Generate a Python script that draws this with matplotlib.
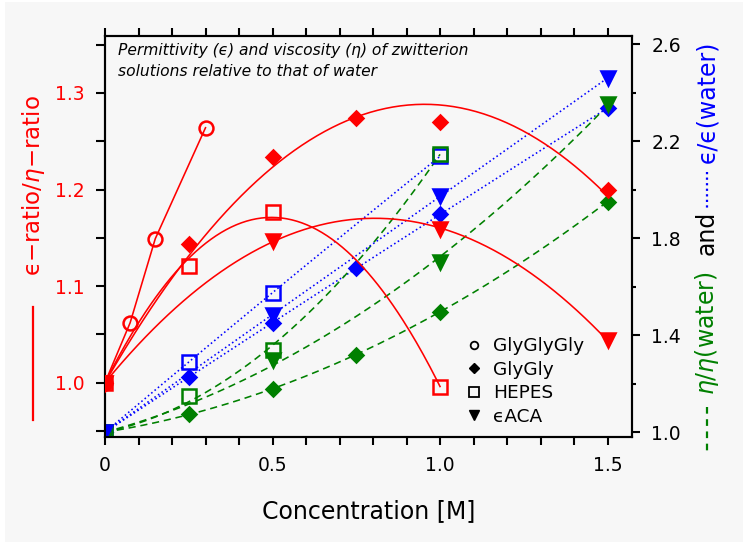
import numpy as np
import matplotlib
matplotlib.use("Agg")
import matplotlib.pyplot as plt
from matplotlib.lines import Line2D
from matplotlib.patches import Rectangle

plt.rcParams['font.family'] = ['DejaVu Sans']
plt.rcParams['mathtext.fontset'] = 'dejavusans'

# ---------------- data ----------------
x_ggg = [0, 0.075, 0.15, 0.3]
r_ggg = [1.0, 1.062, 1.149, 1.264]

x_gg = [0, 0.25, 0.5, 0.75, 1.0, 1.5]
r_gg = [1.0, 1.144, 1.234, 1.274, 1.270, 1.200]
eps_gg = [1.0, 1.227, 1.449, 1.676, 1.900, 2.336]
eta_gg = [1.0, 1.074, 1.179, 1.319, 1.497, 1.951]

x_hep = [0, 0.25, 0.5, 1.0]
r_hep = [1.0, 1.121, 1.177, 0.995]
eps_hep = [1.0, 1.291, 1.574, 2.138]
eta_hep = [1.0, 1.151, 1.339, 2.149]

x_aca = [0, 0.5, 1.0, 1.5]
r_aca = [1.0, 1.147, 1.159, 1.044]
eps_aca = [1.0, 1.483, 1.974, 2.460]
eta_aca = [1.0, 1.296, 1.703, 2.354]

legend_labels = ["GlyGlyGly", "GlyGly", "HEPES", "ϵACA"]
xticks = [0, 0.5, 1.0, 1.5]
xticklabels = ["0", "0.5", "1.0", "1.5"]
lticks = [1.0, 1.1, 1.2, 1.3]
rticks = [1.0, 1.4, 1.8, 2.2, 2.6]

RED = '#ff0000'
BLUE = '#0000ff'
GREEN = '#008000'
BG = '#f7f7f7'

W, H = 743, 542
fig = plt.figure(figsize=(W / 100, H / 100), dpi=100, facecolor='white')
fig.patches.append(Rectangle((5 / W, 0), 1, 1 - 2 / H, transform=fig.transFigure,
                             facecolor=BG, edgecolor='none', zorder=-10))

ax = fig.add_axes([105 / W, 1 - 437 / H, (632 - 105) / W, (437 - 36) / H])
ax2 = ax.twinx()
ax.set_zorder(ax2.get_zorder() + 1)
ax.patch.set_visible(False)
ax2.patch.set_visible(True)
ax2.patch.set_facecolor(BG)


def quad(x, y, n=200):
    # quadratic fit constrained to pass through the first (x=0) point
    x = np.asarray(x, float)
    y = np.asarray(y, float)
    A = np.column_stack([x, x ** 2])
    coef, *_ = np.linalg.lstsq(A, y - y[0], rcond=None)
    xx = np.linspace(x.min(), x.max(), n)
    return xx, y[0] + coef[0] * xx + coef[1] * xx ** 2


lw = 1.15
dot = (0, (1, 1.7))
dash = (0, (4.5, 3))
ms = 10

# ---- right axis: blue (eps) and green (eta) ----
def rplot(x, y, color, ls, marker, filled, msz):
    xx, yy = quad(x, y)
    ax2.plot(xx, yy, color=color, ls=ls, lw=lw, zorder=2)
    ax2.plot(x, y, ls='none', marker=marker, ms=msz,
             mfc=color if filled else 'none', mec=color, mew=1.8, zorder=3)

rplot(x_gg, eps_gg, BLUE, dot, 'D', True, 7)
rplot(x_gg, eta_gg, GREEN, dash, 'D', True, 7)
rplot(x_hep, eps_hep, BLUE, dot, 's', False, 10)
rplot(x_hep, eta_hep, GREEN, dash, 's', False, 10)
rplot(x_aca, eta_aca, GREEN, dash, 'v', True, 10)
rplot(x_aca, eps_aca, BLUE, dot, 'v', True, 10)

# ---- left axis: red ratio ----
ax.plot(x_ggg, r_ggg, color=RED, lw=lw, zorder=4)
ax.plot(x_ggg, r_ggg, ls='none', marker='o', ms=ms, mfc='none', mec=RED, mew=1.8, zorder=5)
for x, y, m, filled, msz in [(x_gg, r_gg, 'D', True, 7),
                             (x_aca, r_aca, 'v', True, 10),
                             (x_hep, r_hep, 's', False, 10)]:
    xx, yy = quad(x, y)
    ax.plot(xx, yy, color=RED, lw=lw, zorder=4)
    ax.plot(x, y, ls='none', marker=m, ms=msz, mfc=RED if filled else 'none',
            mec=RED, mew=1.8, zorder=5)

# ---- axes limits / ticks ----
ax.set_xlim(0, 1.573)
ax.set_ylim(0.9437, 1.359)
ax2.set_ylim(0.980, 2.634)

for a in (ax, ax2):
    for s in a.spines.values():
        s.set_linewidth(1.5)

ax.set_xticks(xticks)
ax.set_xticklabels(xticklabels)
ax.set_xticks(np.arange(0, 1.575, 0.1), minor=True)
ax.tick_params(axis='x', which='both', direction='out', top=True, bottom=True,
               width=1.5, length=6, labelsize=13.5, pad=8)

ax.set_yticks(lticks)
ax.set_yticks(np.arange(0.95, 1.36, 0.05), minor=True)
ax.tick_params(axis='y', which='both', direction='out', left=True, right=False,
               width=1.5, length=6.5, labelsize=13.5, labelcolor=RED, pad=8)

ax2.set_yticks(rticks)
ax2.set_yticks([1.2, 1.6, 2.0, 2.4], minor=True)
ax2.tick_params(axis='y', which='both', direction='out', right=True, width=1.5,
                labelsize=13.5, pad=8)
ax2.tick_params(axis='y', which='major', length=6)
ax2.tick_params(axis='y', which='minor', length=3)

ax.set_xlabel("Concentration [M]", fontsize=17, labelpad=17)

# ---- title text ----
ax.text(0.025, 0.982,
        "Permittivity (ϵ) and viscosity (η) of zwitterion\nsolutions relative to that of water",
        transform=ax.transAxes, ha='left', va='top', fontsize=11.2, style='italic',
        linespacing=1.5, zorder=6)

# ---- legend ----
handles = [Line2D([], [], ls='none', marker='o', ms=5.5, mfc='none', mec='black', mew=1.3),
           Line2D([], [], ls='none', marker='D', ms=5, mfc='black', mec='black'),
           Line2D([], [], ls='none', marker='s', ms=6.5, mfc='none', mec='black', mew=1.3),
           Line2D([], [], ls='none', marker='v', ms=6.5, mfc='black', mec='black')]
leg = ax.legend(handles, legend_labels, loc='upper left', bbox_to_anchor=(0.683, 0.249),
                frameon=False, fontsize=13.3, handlelength=1.0, handletextpad=0.5,
                labelspacing=0.3, borderpad=0, borderaxespad=0)

# ---- left y label ----
fig.text(34 / W, 1 - 186 / H, "ϵ−ratio/$\\eta$−ratio", rotation=90, ha='center',
         va='center', color=RED, fontsize=16.5)
fig.add_artist(Line2D([33 / W, 33 / W], [1 - 307 / H, 1 - 420 / H], color=RED, lw=1.6,
                      transform=fig.transFigure))

# ---- right y label ----
xr = 707 / W
fig.add_artist(Line2D([xr, xr], [1 - 407 / H, 1 - 453 / H], color=GREEN, lw=1.6,
                      ls=(0, (3, 2.5)), transform=fig.transFigure))
fig.text(xr, 1 - 333.5 / H, "$\\eta$/$\\eta$(water)", rotation=90, ha='center',
         va='center', color=GREEN, fontsize=17)
fig.text(xr, 1 - 233 / H, "and", rotation=90, ha='center', va='center',
         color='black', fontsize=17)
fig.add_artist(Line2D([xr, xr], [1 - 172 / H, 1 - 210 / H], color=BLUE, lw=1.6,
                      ls=(0, (1, 1.5)), transform=fig.transFigure))
fig.text(xr, 1 - 101.5 / H, "ϵ/ϵ(water)", rotation=90, ha='center', va='center',
         color=BLUE, fontsize=17)

fig.savefig("out.png", dpi=100, facecolor=fig.get_facecolor())
